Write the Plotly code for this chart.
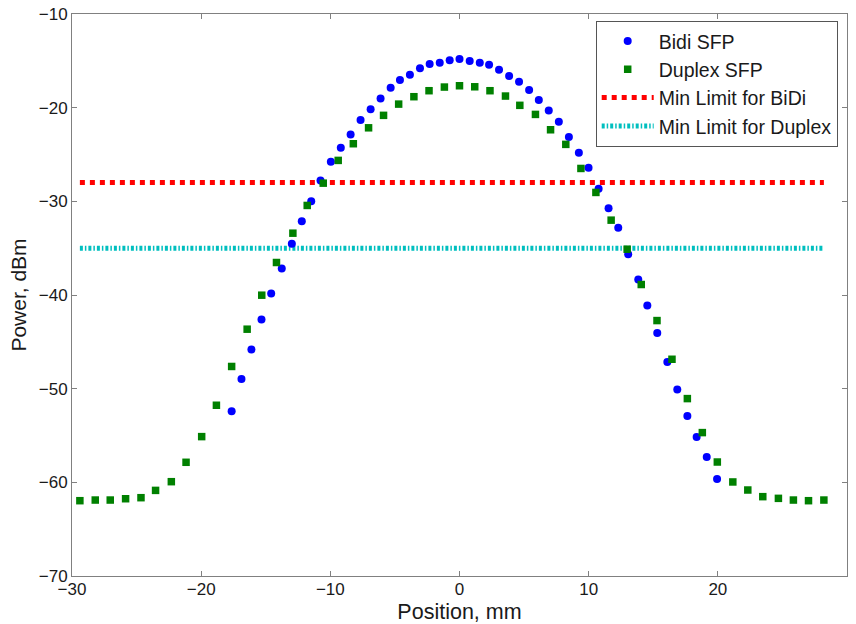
import plotly.graph_objects as go

# ---- data ----
bidi_x = [-17.64, -16.88, -16.11, -15.33, -14.58, -13.76, -12.98, -12.21, -11.48, -10.76,
          -9.96, -9.19, -8.43, -7.66, -6.88, -6.11, -5.33, -4.61, -3.84, -3.06,
          -2.31, -1.53, -0.76, 0.00, 0.79, 1.57, 2.29, 3.06, 3.84, 4.61,
          5.39, 6.14, 6.91, 7.69, 8.47, 9.24, 9.99, 10.77, 11.54, 12.29,
          13.06, 13.84, 14.54, 15.31, 16.09, 16.86, 17.64, 18.36, 19.14, 19.94]
bidi_y = [-52.41, -48.96, -45.82, -42.62, -39.84, -37.17, -34.54, -32.12, -29.98, -27.77,
          -25.78, -24.28, -22.86, -21.32, -20.18, -19.01, -17.87, -17.05, -16.48, -15.80,
          -15.34, -15.20, -14.95, -14.81, -15.02, -15.20, -15.41, -15.95, -16.62, -17.23,
          -18.12, -19.19, -20.29, -21.51, -23.14, -24.82, -26.42, -28.66, -30.73, -32.83,
          -35.64, -38.34, -41.12, -44.05, -47.15, -50.10, -52.91, -55.16, -57.30, -59.65]

duplex_x = [-29.39, -28.20, -27.04, -25.85, -24.66, -23.53, -22.31, -21.17, -19.96, -18.82,
            -17.64, -16.44, -15.31, -14.17, -12.90, -11.79, -10.55, -9.39, -8.22, -7.04,
            -5.88, -4.71, -3.53, -2.36, -1.17, 0.00, 1.18, 2.36, 3.56, 4.67,
            5.88, 7.05, 8.23, 9.40, 10.56, 11.74, 12.98, 14.07, 15.29, 16.45,
            17.64, 18.80, 19.96, 21.16, 22.32, 23.48, 24.69, 25.85, 27.02, 28.21]
duplex_y = [-61.96, -61.89, -61.89, -61.75, -61.64, -60.86, -59.93, -57.86, -55.12, -51.77,
            -47.63, -43.65, -40.02, -36.53, -33.40, -30.44, -28.06, -25.63, -23.85, -22.15,
            -20.82, -19.62, -18.83, -18.19, -17.80, -17.66, -17.77, -18.19, -18.76, -19.75,
            -20.72, -22.36, -23.92, -26.49, -29.05, -32.01, -35.11, -38.88, -42.73, -46.86,
            -51.06, -54.69, -57.83, -59.96, -60.82, -61.53, -61.71, -61.89, -61.96, -61.89]

limit_bidi = -28.0
limit_duplex = -35.0

x_ticks = [-30, -20, -10, 0, 10, 20, 30]
y_ticks = [-70, -60, -50, -40, -30, -20, -10]

line_x = [min(duplex_x), max(duplex_x)]

FONT = "Liberation Sans, Arial, sans-serif"
AXIS_COL = "#808080"
TEXT_COL = "#1a1a1a"

fig = go.Figure()

fig.add_trace(go.Scatter(
    x=line_x, y=[limit_bidi, limit_bidi], mode="lines",
    name="Min Limit for BiDi", legendrank=3,
    line=dict(color="#FF0000", width=5, dash="dot"),
))
fig.add_trace(go.Scatter(
    x=line_x, y=[limit_duplex, limit_duplex], mode="lines",
    name="Min Limit for Duplex", legendrank=4,
    line=dict(color="#00BFBF", width=5, dash="3px,2px,1.5px,2px"),
))
fig.add_trace(go.Scatter(
    x=bidi_x, y=bidi_y, mode="markers", name="Bidi SFP", legendrank=1,
    marker=dict(symbol="circle", size=8, color="#0000FF", line=dict(width=0)),
))
fig.add_trace(go.Scatter(
    x=duplex_x, y=duplex_y, mode="markers", name="Duplex SFP", legendrank=2,
    marker=dict(symbol="square", size=7.5, color="#008000", line=dict(width=0)),
))

axis_common = dict(
    showgrid=False, zeroline=False, showline=True, linecolor=AXIS_COL, linewidth=1,
    mirror="allticks", ticks="inside", ticklen=5, tickcolor=AXIS_COL, tickwidth=1,
    tickfont=dict(family=FONT, size=17, color=TEXT_COL),
)

fig.update_layout(
    width=856, height=624,
    margin=dict(l=72, r=9, t=14, b=48, autoexpand=False),
    paper_bgcolor="white", plot_bgcolor="white",
    font=dict(family=FONT, color=TEXT_COL),
    xaxis=dict(range=[-30, 30], tickvals=x_ticks, ticklabelstandoff=-2,
               title=dict(text="Position, mm", font=dict(family=FONT, size=21.5, color=TEXT_COL), standoff=8),
               automargin=True,
               **axis_common),
    yaxis=dict(range=[-70, -10], tickvals=y_ticks,
               title=dict(text="Power, dBm", font=dict(family=FONT, size=21, color=TEXT_COL), standoff=6),
               **axis_common),
    legend=dict(
        x=0.988, y=0.988, xanchor="right", yanchor="top",
        bgcolor="white", bordercolor="#555555", borderwidth=1,
        font=dict(family=FONT, size=19.5, color=TEXT_COL),
        itemwidth=52,
    ),
    showlegend=True,
)

fig.write_html("out.html")
